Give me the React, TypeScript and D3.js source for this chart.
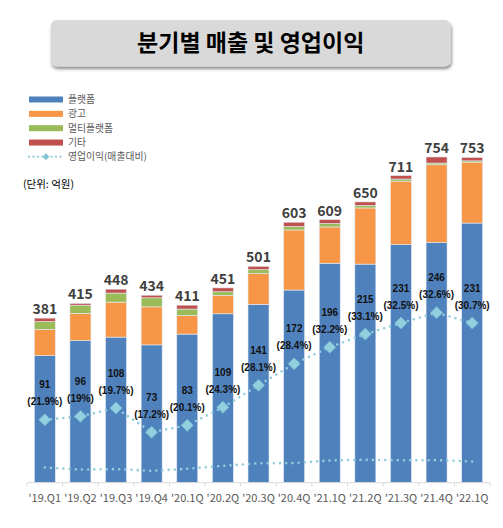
import React from "react";
import * as d3 from "d3";

const categories = ["'19.Q1", "'19.Q2", "'19.Q3", "'19.Q4", "'20.1Q", "'20.2Q", "'20.3Q", "'20.4Q", "'21.1Q", "'21.2Q", "'21.3Q", "'21.4Q", "'22.1Q"];
const platform = [294, 329, 337, 319, 344, 391, 413, 446, 508, 506, 551, 556, 601];
const ads = [61, 63, 81, 88, 43, 43, 71, 139, 84, 130, 147, 180, 141];
const multi = [18, 19, 21, 21, 15, 8, 9, 8, 8, 6, 5, 4, 3];
const etc = [8, 4, 9, 6, 9, 9, 8, 10, 9, 8, 8, 14, 8];
const totals = [381, 415, 448, 434, 411, 451, 501, 603, 609, 650, 711, 754, 753];
const opProfit = [91, 96, 108, 73, 83, 109, 141, 172, 196, 215, 231, 246, 231];
const opMargin = [21.9, 19, 19.7, 17.2, 20.1, 24.3, 28.1, 28.4, 32.2, 33.1, 32.5, 32.6, 30.7];
const marginLabels = ["(21.9%)", "(19%)", "(19.7%)", "(17.2%)", "(20.1%)", "(24.3%)", "(28.1%)", "(28.4%)", "(32.2%)", "(33.1%)", "(32.5%)", "(32.6%)", "(30.7%)"];
const seriesNames = ["플랫폼", "광고", "멀티플랫폼", "기타"];
const seriesColors = ["#4f81bd", "#f79646", "#9bbb59", "#c0504d"];
const lineName = "영업이익(매출대비)";
const title = "분기별 매출 및 영업이익";
const unitLabel = "(단위: 억원)";

const FONT = "'Noto Sans CJK KR', 'Noto Sans', sans-serif";
const NUMFONT = "'Liberation Sans', Arial, sans-serif";

export default function App() {
  const W = 503, H = 528;
  const x0 = 27, x1 = 490, yBase = 482.7, yTop = 137.1;
  const x = d3.scaleBand().domain(categories).range([x0, x1]).paddingInner(0.41).paddingOuter(0.205);
  const y = d3.scaleLinear().domain([0, 800]).range([yBase, yTop]);
  const y2 = d3.scaleLinear().domain([0, 500]).range([yBase, yTop]);

  const rows = categories.map((c, i) => ({ cat: c, 0: platform[i], 1: ads[i], 2: multi[i], 3: etc[i] }));
  const stack = d3.stack<any>().keys(["0", "1", "2", "3"])(rows);

  const cx = (i: number) => (x(categories[i]) as number) + x.bandwidth() / 2;
  const line = d3.line<number>().x((_, i) => cx(i)).y((d) => y2(d));
  const step = (x1 - x0) / categories.length;

  const dotStroke = "#92cddc";
  const diamond = (px: number, py: number, r = 5.5) => `M${px},${py - r}L${px + r},${py}L${px},${py + r}L${px - r},${py}Z`;

  return (
    <svg width={W} height={H} style={{ position: "absolute", left: 0, top: 0, background: "#fff" }} fontFamily={FONT}>
      <defs>
        <filter id="sh" x="-5%" y="-20%" width="115%" height="160%">
          <feDropShadow dx="1" dy="2.5" stdDeviation="1.5" floodColor="#000" floodOpacity="0.45" />
        </filter>
      </defs>
      {/* title */}
      <rect x={50.7} y={20} width={400} height={46.5} rx={6} fill="#d9d9d9" filter="url(#sh)" />
      <text x={250.7} y={51} textAnchor="middle" fontSize={23} fontWeight={700} fill="#000">{title}</text>

      {/* legend */}
      {seriesNames.map((n, i) => (
        <g key={n}>
          <rect x={29} y={96.5 + i * 14.35} width={34} height={6} fill={seriesColors[i]} />
          <text x={68} y={103 + i * 14.35} fontSize={9.8} fill="#595959">{n}</text>
        </g>
      ))}
      <line x1={29} x2={63} y1={156.7} y2={156.7} stroke={dotStroke} strokeWidth={2.2} strokeLinecap="round" strokeDasharray="0 4.5" />
      <path d={diamond(46, 156.7, 3)} fill="#7fc6d8" stroke="#5fb5cb" strokeWidth={0.6} />
      <text x={68} y={160.3} fontSize={9.8} fill="#595959">{lineName}</text>
      <text x={23} y={188} fontSize={10.5} fill="#000">{unitLabel}</text>

      {/* bars */}
      {stack.map((s, k) => (
        <g key={k} fill={seriesColors[k]}>
          {s.map((d, i) => (
            <rect key={i} x={x(categories[i])} y={y(d[1])} width={x.bandwidth()} height={y(d[0]) - y(d[1])} stroke="#e6ecf5" strokeWidth={0.6} />
          ))}
        </g>
      ))}

      {/* axis */}
      <line x1={x0} x2={x1} y1={yBase} y2={yBase} stroke="#d9d9d9" strokeWidth={1} />
      {d3.range(categories.length + 1).map((i) => (
        <line key={i} x1={x0 + i * step} x2={x0 + i * step} y1={yBase} y2={yBase + 4} stroke="#d9d9d9" />
      ))}
      {categories.map((c, i) => (
        <text key={c} x={cx(i)} y={501.5} textAnchor="middle" fontSize={11} fill="#595959">{c}</text>
      ))}

      {/* lower margin dotted line */}
      <path d={line(opMargin) as string} fill="none" stroke={dotStroke} strokeWidth={2.6} strokeLinecap="round" strokeDasharray="0 6.2" />
      {/* operating profit line */}
      <path d={line(opProfit) as string} fill="none" stroke={dotStroke} strokeWidth={2.6} strokeLinecap="round" strokeDasharray="0 6.2" />
      {opProfit.map((v, i) => (
        <path key={i} d={diamond(cx(i), y2(v), 6)} fill="#93cfdf" stroke="#6fbcd0" strokeWidth={0.8} />
      ))}

      {/* labels */}
      {opProfit.map((v, i) => (
        <g key={i} fontSize={10} fontWeight={700} fill="#111" textAnchor="middle" fontFamily={NUMFONT}>
          <text x={cx(i)} y={y2(v) - 31.5}>{v}</text>
          <text x={cx(i)} y={y2(v) - 14.5}>{marginLabels[i]}</text>
        </g>
      ))}
      {totals.map((t, i) => (
        <text key={i} x={cx(i)} y={y(t) - 4} textAnchor="middle" fontSize={14} fontWeight={700} fill="#404040">{t}</text>
      ))}
    </svg>
  );
}
